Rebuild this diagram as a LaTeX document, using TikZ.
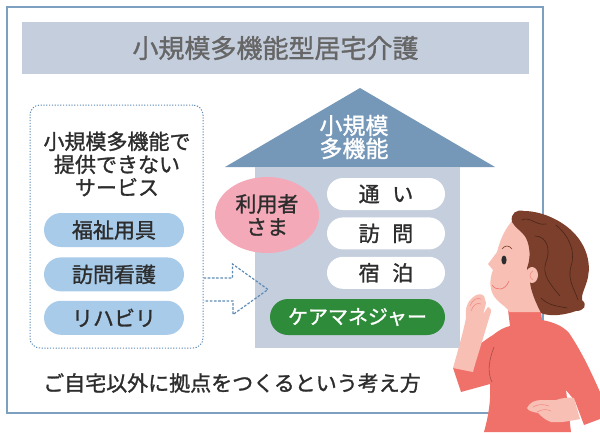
\documentclass[tikz,border=0pt]{standalone}
\usepackage{fontspec}
\setmainfont{Noto Sans CJK JP}
\newfontfamily\medfont{Noto Sans CJK JP}[FakeBold=1.3]
\usetikzlibrary{positioning,shapes.geometric}
\definecolor{framebl}{HTML}{7D9FC0}
\definecolor{barbl}{HTML}{C5CEDD}
\definecolor{roofbl}{HTML}{7698B8}
\definecolor{dotbl}{HTML}{5D8BB5}
\definecolor{pillbl}{HTML}{A8CBEA}
\definecolor{userpk}{HTML}{F4A9B8}
\definecolor{caregr}{HTML}{2E8B3A}
\definecolor{ink}{HTML}{2D2D2D}
\definecolor{titlegr}{HTML}{666666}
\definecolor{coral}{HTML}{F0706A}
\definecolor{skin}{HTML}{F8C0B4}
\definecolor{hair}{HTML}{7B3F2B}

\begin{document}
\begin{tikzpicture}[x=1pt, y=-1pt,
    jp/.style={font=\medfont\fontsize{#1}{23}\selectfont},
    service/.style={fill=pillbl, rounded corners=17pt, minimum width=140pt, minimum height=34pt, inner sep=0pt, text=ink, jp=21},
    feature/.style={fill=white, rounded corners=16pt, minimum width=118pt, minimum height=32pt, inner sep=0pt, text=ink, jp=21},
    flow/.style={dotbl, line width=1.2pt, dash pattern=on 2.6pt off 1.6pt},
    crease/.style={draw=#1, line width=0.6pt, line cap=round}
  ]
    \useasboundingbox (0,0) rectangle (600,432);
    \draw[framebl, line width=1.6pt] (7,7) rectangle (543,413);

    \node[fill=barbl, minimum width=507pt, minimum height=52pt, text=titlegr, jp=26] (title) at (275.5,48) {小規模多機能型居宅介護};

    % services outside the house
    \node[draw=dotbl, line width=1pt, dash pattern=on 1.2pt off 1.6pt, rounded corners=10pt, minimum width=173pt, minimum height=243pt] (outside) at (116.5,226.5) {};
    \node[align=center, text=ink, jp=21] (outsidetext) at (117,164) {小規模多機能で\\提供できない\\サービス};
    \node[service] (welfare) at (114,230) {福祉用具};
    \node[service, below=10pt of welfare] (nursing) {訪問看護};
    \node[service, below=9pt of nursing] (rehab) {リハビリ};

    % the house
    \fill[roofbl] (225,167) -- (360,88) -- (495,167) -- cycle;
    \node[fill=barbl, minimum width=205pt, minimum height=181pt] (house) at (357.5,257.5) {};
    \node[align=center, text=white, jp=23] (rooflabel) at (354,137) {小規模\\多機能};
    \node[ellipse, fill=userpk, minimum width=104pt, minimum height=76pt, inner sep=0pt, align=center, text=ink, jp=21] (user) at (267,215) {利用者\\さま};
    \node[feature] (dayuse) at (386,194) {通\hspace{0.6em}い};
    \node[feature, below=7pt of dayuse] (visit) {訪\hspace{0.6em}問};
    \node[feature, below=7pt of visit] (stay) {宿\hspace{0.6em}泊};
    \node[fill=caregr, rounded corners=18pt, minimum width=175pt, minimum height=36pt, inner sep=0pt, text=white, jp=20] (manager) at (357.5,317) {ケアマネジャー};

    \coordinate (tail) at (outside.east |- 0,289.5);
    \coordinate (tip) at (268,289.5);
    \draw[flow] (tail) ++(0,-11.5) -- ++(29,0) -- ++(0,-14) -- (tip) -- ++(-35,25) -- ++(0,-13.5) -- ++(-29,0);

    \node[text=ink, jp=21] (caption) at (232,383) {ご自宅以外に拠点をつくるという考え方};

    % woman
    \fill[coral] (508,310) -- (541,311) -- (542,320) .. controls (553,322) and (563,326) .. (569,333)
      .. controls (582,352) and (592,374) .. (600,392) -- (600,419) -- (584,425) -- (575,401) -- (566,390)
      -- (571,432) -- (484,432) .. controls (489,414) and (491,398) .. (490,384) -- (461,392) -- (453,368)
      .. controls (466,356) and (481,342) .. (493,335) .. controls (499,330) and (505,327) .. (510,326) -- cycle;
    \draw[crease=coral!70!black] (494,347) .. controls (489,360) and (487,372) .. (492,382);
    \fill[skin] (514,219) .. controls (505,228) and (500,240) .. (497,252) -- (488,264) -- (493,270)
      .. controls (489,280) and (489,292) .. (497,300) .. controls (503,306) and (508,308) .. (509,312)
      -- (541,312) -- (541,225) -- cycle;
    \fill[hair] (512,222) .. controls (510,213) and (517,209) .. (524,211) .. controls (540,211) and (560,219) .. (573,232)
      .. controls (586,245) and (591,262) .. (588,277) .. controls (586,287) and (581,294) .. (582,300)
      .. controls (588,305) and (584,311) .. (576,311) .. controls (565,315) and (550,317) .. (541,313)
      .. controls (536,303) and (531,292) .. (530,282) -- (527,268) .. controls (531,258) and (530,246) .. (526,238)
      .. controls (522,231) and (515,228) .. (512,222) -- cycle;
    \draw[crease=hair!60!black] (522,220) .. controls (530,216) and (536,226) .. (546,224);
    \draw[crease=hair!60!black] (535,236) .. controls (547,236) and (551,250) .. (546,262) .. controls (541,275) and (552,286) .. (560,296);
    \draw[crease=hair!60!black] (556,225) .. controls (569,236) and (576,251) .. (571,266) .. controls (567,280) and (575,290) .. (578,300);
    \draw[crease=hair!60!black] (541,298) .. controls (549,306) and (558,306) .. (567,308);
    \fill[skin] (532,275) ellipse (6 and 8);
    \draw[crease=coral!80] (533,271) .. controls (529,273) and (529,278) .. (533,280);
    \fill[ink] (504,260) ellipse (2.6 and 4.5);
    \draw[crease=hair] (502,249) .. controls (505,245) and (509,245) .. (512,249);
    \draw[crease=coral] (492,285) .. controls (496,291) and (505,291) .. (509,281);
    \fill[skin] (453,368) .. controls (458,350) and (463,333) .. (466,318) .. controls (465,309) and (467,302) .. (472,298)
      .. controls (476,294) and (481,293) .. (484,296) -- (486,303) .. controls (485,308) and (484,311) .. (483,314)
      -- (488,307) .. controls (491,308) and (492,311) .. (490,315) .. controls (487,325) and (484,335) .. (481,345)
      .. controls (478,355) and (475,364) .. (473,372) -- cycle;
    \draw[crease=coral!80] (470,306) .. controls (472,300) and (477,297) .. (481,299);
    \draw[crease=coral!80] (471,311) .. controls (473,305) and (477,302) .. (481,304);
    \fill[skin] (527,408) .. controls (530,402) and (535,400) .. (542,400) -- (556,400) .. controls (562,398) and (568,397) .. (574,398)
      -- (580,419) .. controls (570,421) and (560,423) .. (551,422) .. controls (545,420) and (541,416) .. (538,413)
      .. controls (533,412) and (528,411) .. (527,408) -- cycle;
    \draw[crease=coral!80] (533,407) .. controls (538,404) and (544,404) .. (549,406);
    \draw[crease=coral!80] (537,412) .. controls (542,409) and (547,409) .. (551,411);
\end{tikzpicture}
\end{document}
